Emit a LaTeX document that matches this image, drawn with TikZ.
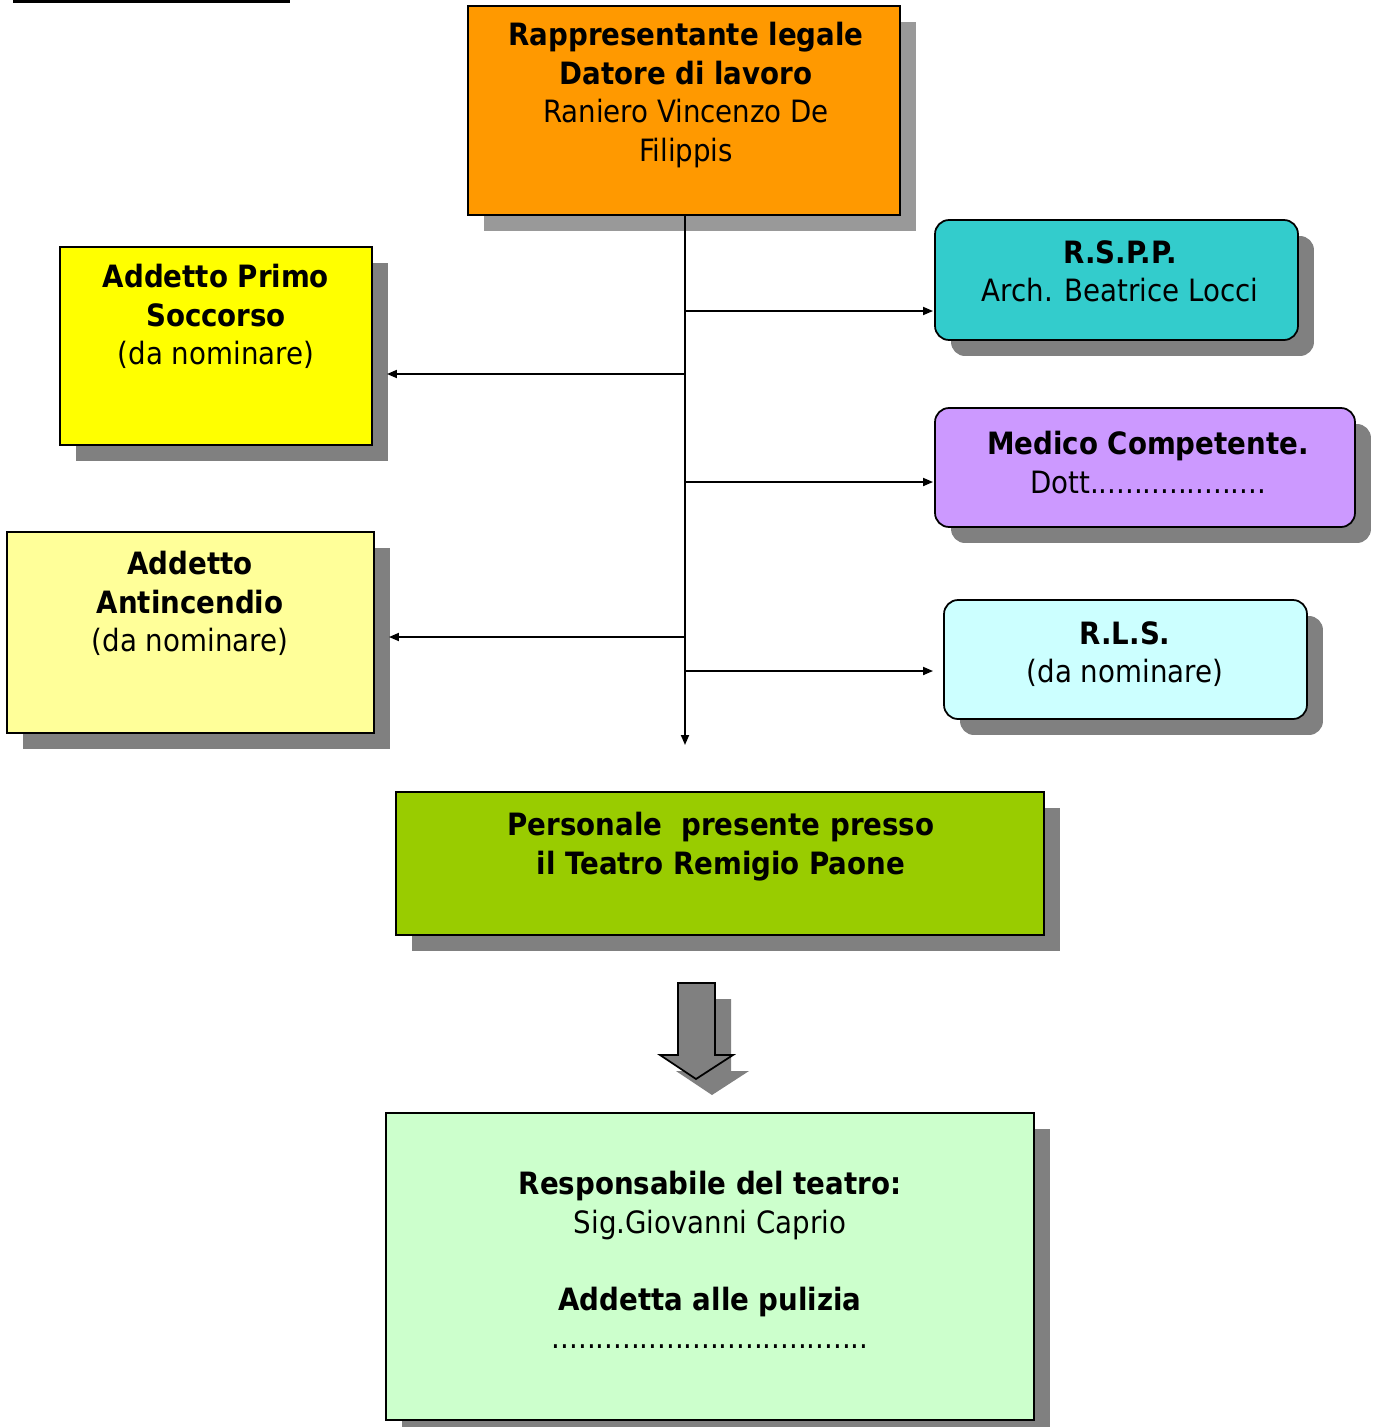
\documentclass[tikz,border=0pt]{standalone}
\usepackage{fontspec}
\setmainfont{DejaVu Sans Condensed}
\usetikzlibrary{arrows.meta,positioning,shadows}
\definecolor{shadowgray}{HTML}{808080}
\definecolor{lightshadow}{HTML}{999999}
\definecolor{datore}{HTML}{FF9900}
\definecolor{rsppcol}{HTML}{33CCCC}
\definecolor{primocol}{HTML}{FFFF00}
\definecolor{medicocol}{HTML}{CC99FF}
\definecolor{antinccol}{HTML}{FFFF99}
\definecolor{rlscol}{HTML}{CCFFFF}
\definecolor{perscol}{HTML}{99CC00}
\definecolor{respcol}{HTML}{CCFFCC}
\begin{document}
\begin{tikzpicture}[x=0.02cm, y=-0.02cm,
    box/.style={draw=black, line width=1pt, inner sep=0pt, outer sep=0pt,
      drop shadow={shadow xshift=0.32cm, shadow yshift=-0.32cm, fill=shadowgray, opacity=1}},
    roundbox/.style={box, rounded corners=0.28cm},
    txt/.style={anchor=north, inner sep=0pt, align=center,
      font=\fontsize{17.5}{21.9}\selectfont},
    link/.style={line width=1pt, -{Triangle[length=0.2cm, width=0.16cm]}}]
  \useasboundingbox (0,0) rectangle (1376,1427);
  \fill (13,0) rectangle (290,3);
  % boxes
  \node[box, fill=datore, minimum width=8.64cm, minimum height=4.18cm,
    drop shadow={shadow xshift=0.32cm, shadow yshift=-0.32cm, fill=lightshadow, opacity=1}]
    (datore) at (684,110.5) {};
  \node[roundbox, fill=rsppcol, minimum width=7.26cm, minimum height=2.4cm] (rspp) at (1116.5,280) {};
  \node[box, fill=primocol, minimum width=6.24cm, minimum height=3.96cm] (primo) at (216,346) {};
  \node[roundbox, fill=medicocol, minimum width=8.4cm, minimum height=2.38cm] (medico) at (1145,467.5) {};
  \node[box, fill=antinccol, minimum width=7.34cm, minimum height=4.02cm] (antinc) at (190.5,632.5) {};
  \node[roundbox, fill=rlscol, minimum width=7.26cm, minimum height=2.38cm] (rls) at (1125.5,659.5) {};
  \node[box, fill=perscol, minimum width=12.96cm, minimum height=2.86cm] (pers) at (720,863.5) {};
  \node[box, fill=respcol, minimum width=12.96cm, minimum height=6.14cm] (resp) at (710,1266.5) {};
  % texts
  \node[txt] (datoretxt) at (686,22) {\textbf{Rappresentante legale}\\\textbf{Datore di lavoro}\\Raniero Vincenzo De\\Filippis};
  \node[txt] (rsptxt) at (1120,240) {\textbf{R.S.P.P.}\\Arch. Beatrice Locci};
  \node[txt] (primotxt) at (216,264) {\textbf{Addetto Primo}\\\textbf{Soccorso}\\(da nominare)};
  \node[txt] (medicotxt) at (1148,431) {\textbf{Medico Competente.}\\Dott....................};
  \node[txt] (antinctxt) at (190,551) {\textbf{Addetto}\\\textbf{Antincendio}\\(da nominare)};
  \node[txt] (rlstxt) at (1125,621) {\textbf{R.L.S.}\\(da nominare)};
  \node[txt] (perstxt) at (721,812) {\textbf{Personale~ presente presso}\\\textbf{il Teatro Remigio Paone}};
  \node[txt] (resptxt) at (710,1171) {\textbf{Responsabile del teatro:}\\Sig.Giovanni Caprio\\[21.9pt]\textbf{Addetta alle pulizia}\\....................................};
  % connectors
  \coordinate (trunk) at (685,745);
  \coordinate (c1) at (685,311);
  \coordinate (c2) at (685,374);
  \coordinate (c3) at (685,482);
  \coordinate (c4) at (685,637);
  \coordinate (c5) at (685,671);
  \draw[link] (datore.south -| trunk) -- (trunk);
  \draw[link] (c1) -- ([xshift=-0.04cm]c1 -| rspp.west);
  \draw[link] (c2) -- ([xshift=0.3cm]c2 -| primo.east);
  \draw[link] (c3) -- ([xshift=-0.04cm]c3 -| medico.west);
  \draw[link] (c4) -- ([xshift=0.3cm]c4 -| antinc.east);
  \draw[link] (c5) -- ([xshift=-0.22cm]c5 -| rls.west);
  % big arrow
  \fill[shadowgray] (694,999) -- (731,999) -- (731,1071) -- (749,1071) -- (712,1095) -- (676,1071) -- (694,1071) -- cycle;
  \draw[line width=1pt, fill=shadowgray] (678,983) -- (715,983) -- (715,1055) -- (733,1055) -- (696,1079) -- (660,1055) -- (678,1055) -- cycle;
\end{tikzpicture}
\end{document}
